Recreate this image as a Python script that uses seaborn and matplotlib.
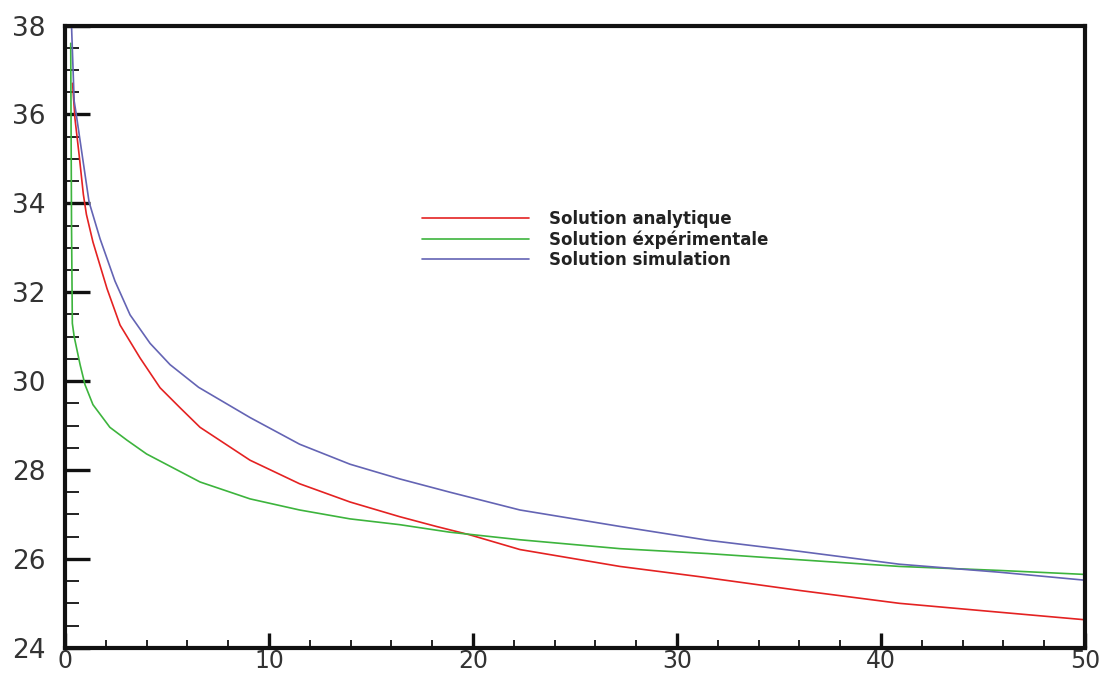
#!/usr/bin/env python3
import numpy as np
import pandas as pd
import matplotlib
matplotlib.use("Agg")
import matplotlib.pyplot as plt
import seaborn as sns
from matplotlib.ticker import MultipleLocator

# Values
x_analytique = [0.37, 0.49, 0.69, 0.9, 1.05, 1.37, 2.06, 2.7, 3.68, 4.66, 5.64, 6.62,
                9.07, 11.5, 13.97, 16.4, 18.2, 19.85, 22.3, 27.2, 31.1, 36.0, 40.9, 45.8, 50.0]
y_analytique = [36.7, 35.9, 35.1, 34.2, 33.75, 33.13, 32.08, 31.26, 30.52, 29.85, 29.4, 28.96,
                28.22, 27.69, 27.28, 26.95, 26.73, 26.54, 26.21, 25.83, 25.6, 25.29, 25.0, 24.8, 24.63]

x_experimentale = [0.28, 0.32, 0.36, 0.45, 0.74, 0.98, 1.37, 2.2, 3.04, 4.0, 6.62, 9.07,
                   11.5, 13.97, 16.4, 18.87, 22.3, 27.2, 31.5, 36.0, 40.9, 45.8, 50.0]
y_experimentale = [37.6, 33.5, 31.3, 31.0, 30.37, 29.92, 29.47, 28.96, 28.67, 28.36, 27.73, 27.35,
                   27.1, 26.9, 26.77, 26.6, 26.43, 26.23, 26.12, 25.98, 25.83, 25.74, 25.65]

x_simulation = [0.32, 0.45, 0.54, 0.87, 1.18, 1.72, 2.45, 3.19, 4.17, 5.15, 6.55, 9.07,
                11.5, 13.97, 16.4, 18.87, 22.3, 27.2, 31.5, 36.0, 40.9, 45.8, 50.0]
y_simulation = [38.0, 36.3, 36.04, 35.0, 34.03, 33.2, 32.25, 31.49, 30.85, 30.37, 29.86, 29.18,
                28.58, 28.13, 27.8, 27.5, 27.1, 26.73, 26.42, 26.17, 25.88, 25.70, 25.52]

labels = ["Solution analytique", "Solution éxpérimentale", "Solution simulation"]
colors = ["#e42222", "#3db43d", "#6464b4"]

sns.set_style("white")
plt.rcParams["font.family"] = ["DejaVu Sans"]

fig = plt.figure(figsize=(11.11, 6.79), dpi=100)
ax = fig.add_axes([0.0585, 0.046, 0.9181, 0.9164])

series = [(x_analytique, y_analytique), (x_experimentale, y_experimentale), (x_simulation, y_simulation)]
for (xs, ys), lab, col in zip(series, labels, colors):
    df = pd.DataFrame({"x": xs, "y": ys})
    sns.lineplot(data=df, x="x", y="y", ax=ax, color=col, label=lab,
                 linewidth=1.2, sort=False, estimator=None)

ax.set_xlim(0, 50)
ax.set_ylim(24, 38)
ax.set_xlabel("")
ax.set_ylabel("")

ax.xaxis.set_major_locator(MultipleLocator(10))
ax.xaxis.set_minor_locator(MultipleLocator(2))
ax.yaxis.set_major_locator(MultipleLocator(2))
ax.yaxis.set_minor_locator(MultipleLocator(0.5))

# inward ticks, left and bottom only
ax.tick_params(which="both", left=True, bottom=True, right=False, top=False, direction="in")
ax.tick_params(axis="y", which="major", length=18, width=2.4,
               labelsize=19, pad=14, color="#111111", labelcolor="#333333")
ax.tick_params(axis="y", which="minor", length=10, width=1.3, color="#111111")
ax.tick_params(axis="x", which="major", length=11, width=2.4,
               labelsize=17, pad=1, color="#111111", labelcolor="#333333")
ax.tick_params(axis="x", which="minor", length=6, width=1.3, color="#111111")

for side in ["left", "right", "top", "bottom"]:
    ax.spines[side].set_visible(True)
    ax.spines[side].set_linewidth(3)
    ax.spines[side].set_color("#111111")

leg = ax.legend(loc="center left", bbox_to_anchor=(0.35, 0.656), frameon=False,
                borderpad=0, borderaxespad=0, handlelength=6.4, handletextpad=1.2,
                labelspacing=0.12, prop={"size": 12, "weight": "bold"})
for t in leg.get_texts():
    t.set_color("#222222")

fig.savefig("out.png", dpi=100)
plt.close(fig)
